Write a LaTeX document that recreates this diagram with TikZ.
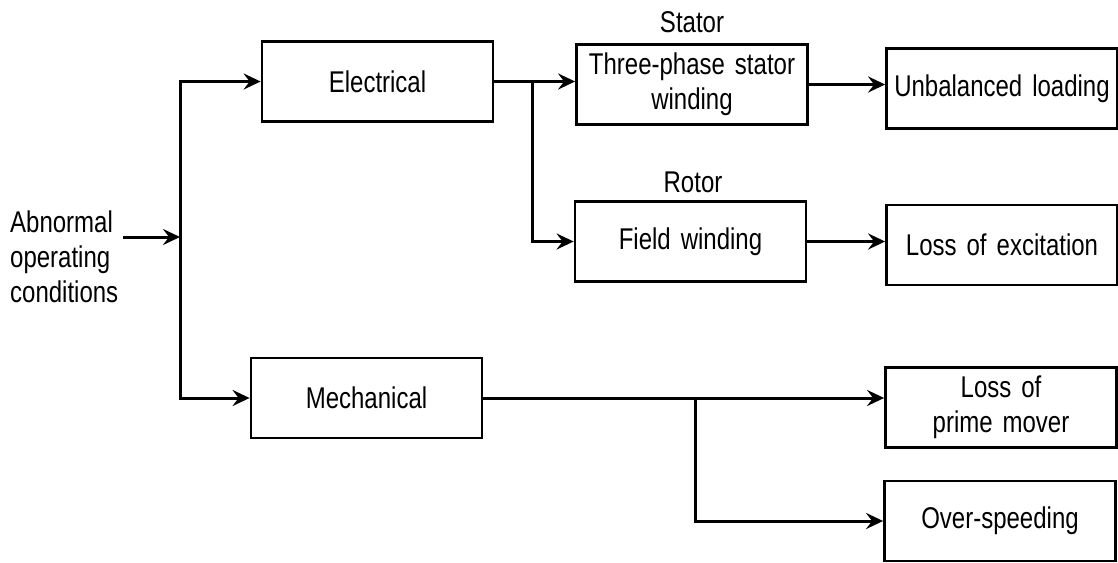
\documentclass[tikz,border=0pt]{standalone}
\usepackage{fontspec}
\setmainfont{Liberation Sans}[FakeStretch=0.8, WordSpace=1.5]
\usetikzlibrary{arrows.meta}
\begin{document}
\begin{tikzpicture}[x=1pt,y=-1pt,
  box/.style={draw, line width=2.8pt, minimum width=231pt, minimum height=80pt, inner sep=0pt, align=center, font=\fontsize{30}{35}\selectfont},
  lbl/.style={inner sep=0pt, font=\fontsize{30}{35}\selectfont},
  conn/.style={line width=3pt, line join=miter},
  arr/.style={conn, -{Stealth[length=17pt,width=16pt,inset=6pt]}}]
\useasboundingbox (0,0) rectangle (1118,562);
% boxes
\node[box] (elec)  at (377.5,81.5) {Electrical};
\node[box] (stat)  at (692,84.5)   {Three-phase stator\\winding};
\node[box] (unb)   at (1002,88.5)  {Unbalanced loading};
\node[box] (field) at (690.5,241.5){Field winding};
\node[box] (exc)   at (1002,245)   {Loss of excitation};
\node[box] (mech)  at (366.5,398)  {Mechanical};
\node[box] (prime) at (1001,407.5) {Loss of\\prime mover};
\node[box] (over)  at (1000,521)   {Over-speeding};
% labels
\node[lbl, anchor=west, align=left] (abn) at (10,257) {Abnormal\\operating\\conditions};
\node[lbl] (statlbl) at (692,22) {Stator};
\node[lbl] (rotlbl) at (693,182) {Rotor};
% junctions
\coordinate (a0) at (123,237);
\coordinate (j0) at (180,237);
\coordinate (j1) at (532,0);
\coordinate (j2) at (695,0);
% connectors
\draw[arr] (a0) -- (j0);
\draw[arr] (j0) |- (elec.west);
\draw[arr] (j0) |- (mech.west);
\draw[arr] (elec.east) -- (elec.east -| stat.west);
\draw[arr] (elec.east -| j1) |- (field.west);
\draw[arr] (stat.east) -- (stat.east -| unb.west);
\draw[arr] (field.east) -- (field.east -| exc.west);
\draw[arr] (mech.east) -- (mech.east -| prime.west);
\draw[arr] (mech.east -| j2) |- (over.west);
\end{tikzpicture}
\end{document}
